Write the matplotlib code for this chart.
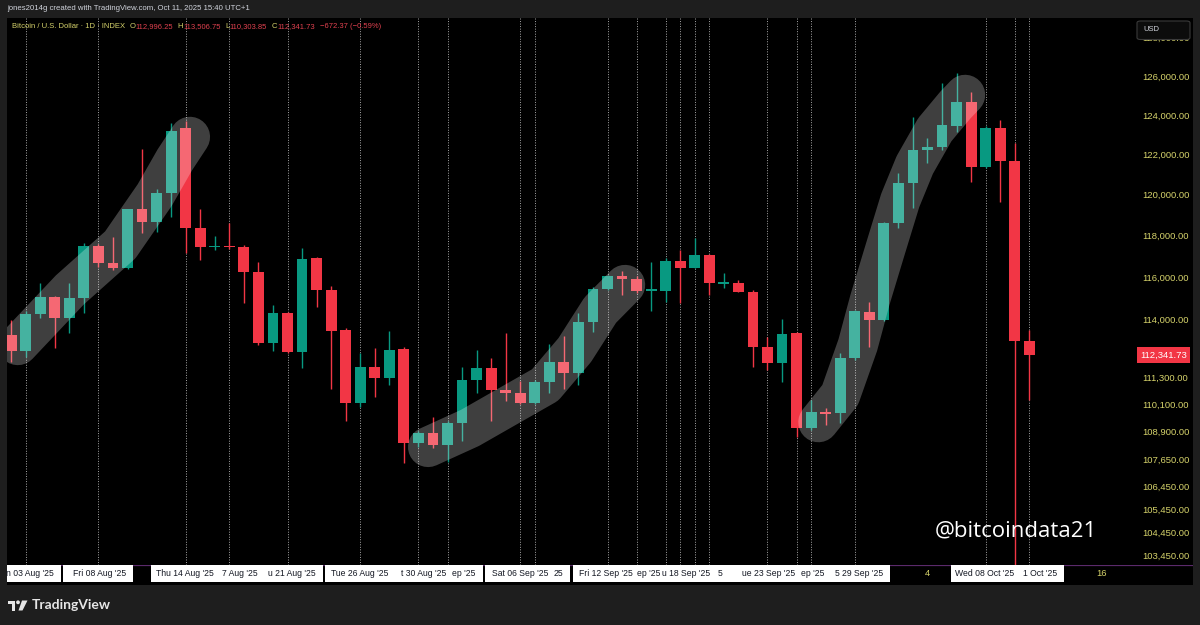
import numpy as np
import pandas as pd
import matplotlib
matplotlib.use('Agg')
import matplotlib.pyplot as plt
import matplotlib.dates as mdates
import matplotlib.transforms as mtransforms
from matplotlib.patches import Rectangle, FancyBboxPatch, Polygon, Circle
from matplotlib.ticker import FixedLocator, NullLocator, FuncFormatter, NullFormatter

plt.rcParams['font.family'] = ['Liberation Sans', 'DejaVu Sans']

# ---------------- data ----------------
start_date = '2025-08-02'
open_ = [113280, 112550, 114240, 115080, 114080, 115030, 117500, 116670, 116430, 119290,
         118680, 120080, 123330, 118360, 117440, 117500, 117470, 116260, 112890, 114290,
         112500, 116910, 115400, 113510, 110140, 111810, 111280, 112630, 108370, 108820,
         108270, 109270, 111200, 111760, 110750, 110620, 110170, 111120, 112020, 111510,
         113900, 115440, 116060, 115910, 115350, 115360, 116790, 116460, 117070, 115680,
         115740, 115310, 112710, 111990, 113360, 109020, 109740, 109720, 112190, 114370,
         113980, 118600, 120570, 122230, 122370, 123460, 124680, 121370, 123330, 121700,
         112996.25]
high = [113980, 114400, 115710, 115120, 115740, 117660, 117600, 117920, 119300, 122280,
        120270, 123610, 123700, 119300, 117980, 118600, 117550, 116750, 114690, 114360,
        117390, 116990, 115580, 113590, 112430, 112690, 113480, 112700, 108900, 109510,
        109350, 111780, 112580, 112190, 113390, 111170, 111200, 112860, 113230, 114290,
        115540, 116110, 116280, 116060, 116750, 116920, 117310, 117900, 117100, 116190,
        115870, 115400, 113200, 114010, 113420, 110290, 109920, 112430, 114450, 114840,
        118680, 121070, 123910, 122820, 125660, 126180, 125200, 123440, 123750, 122560,
        113506.75]
low = [112040, 112250, 114070, 112660, 113390, 114290, 116500, 116350, 116400, 118110,
       118190, 118930, 117150, 116830, 117310, 117350, 114770, 112810, 112520, 112460,
       111740, 114580, 110780, 109320, 109950, 110440, 110970, 107490, 108190, 108130,
       107500, 108460, 110600, 109360, 110260, 110110, 110110, 110620, 110780, 110970,
       113430, 115390, 115160, 115240, 114420, 114840, 114770, 116430, 115160, 115480,
       115300, 111810, 111660, 111100, 108640, 108940, 109170, 109270, 112120, 112740,
       113930, 118360, 119340, 121570, 122230, 123160, 120650, 121340, 119660, 100500,
       110303.85]
close = [112550, 114240, 115080, 114080, 115030, 117500, 116670, 116430, 119290, 118680,
         120080, 123210, 118360, 117440, 117500, 117440, 116260, 112890, 114290, 112500,
         116860, 115400, 113480, 110140, 111810, 111280, 112580, 108370, 108820, 108270,
         109270, 111200, 111760, 110750, 110600, 110170, 111120, 112020, 111510, 113900,
         115460, 116060, 115900, 115350, 115400, 116790, 116460, 117070, 115710, 115740,
         115310, 112710, 111990, 113330, 109020, 109740, 109670, 112190, 114410, 113980,
         118600, 120570, 122230, 122400, 123500, 124680, 121370, 123330, 121700, 112996.25,
         112341.73]

price_ticks = [128000, 126000, 124000, 122000, 120000, 118000, 116000, 114000,
               111300, 110100, 108900, 107650, 106450, 105450, 104450, 103450]

# vertical line markers (date, visible part of its time-axis label)
marker_dates = ['2025-08-03', '2025-08-08', '2025-08-14', '2025-08-17', '2025-08-21',
                '2025-08-26', '2025-08-30', '2025-09-01', '2025-09-06', '2025-09-07',
                '2025-09-12', '2025-09-14', '2025-09-16', '2025-09-17', '2025-09-18',
                '2025-09-19', '2025-09-23', '2025-09-25', '2025-09-26', '2025-09-29',
                '2025-10-08', '2025-10-10', '2025-10-11']
marker_labels = ["n 03 Aug '25", "Fri 08 Aug '25", "Thu 14 Aug '25", "7 Aug '25",
                 "u 21 Aug '25", "Tue 26 Aug '25", "t 30 Aug '25", "ep '25",
                 "Sat 06 Sep '25", "25", "Fri 12 Sep '25", "ep '25", "",
                 "u 18 Sep '25", "5", "", "ue 23 Sep '25", "ep '25", "5", "29 Sep '25",
                 "Wed 08 Oct '25", "", "1 Oct '25"]
axis_tick_dates = ['2025-10-04', '2025-10-16']
axis_tick_labels = ['4', '16']

# highlighter strokes (date, price)
hl1_dates = ['2025-08-02 11:00', '2025-08-06 01:00', '2025-08-09 12:00', '2025-08-11 21:00',
             '2025-08-13 06:00', '2025-08-14 07:00']
hl1_prices = [112810, 115400, 117550, 119990, 121730, 122890]
hl2_dates = ['2025-08-30 16:00', '2025-09-02 13:00', '2025-09-05 07:00', '2025-09-07 17:00',
             '2025-09-09 18:00', '2025-09-11 12:00', '2025-09-13 05:00']
hl2_prices = [108180, 109030, 110060, 110970, 112580, 114440, 115630]
hl3_dates = ['2025-09-26 12:00', '2025-09-28 00:00', '2025-09-29 05:00', '2025-09-30 01:00',
             '2025-10-01 02:00', '2025-10-02 03:00', '2025-10-03 03:00', '2025-10-04 12:00',
             '2025-10-05 22:00', '2025-10-06 14:00']
hl3_prices = [109290, 110520, 112810, 114920, 117310, 119720, 121480, 123250, 124510, 125030]

header_user = "jones2014g created with TradingView.com, Oct 11, 2025 15:40 UTC+1"
symbol_name = "Bitcoin / U.S. Dollar \u00b7 1D \u00b7 INDEX"
change_text = "\u2212672.37 (\u22120.59%)"
watermark = "@bitcoindata21"

# ---------------- figure ----------------
W, H = 1200, 625
fig = plt.figure(figsize=(12, 6.25), dpi=100, facecolor='#1e1e1e')

def fx(px):
    return px / W

def fy(py):
    return 1 - py / H

UP = '#089981'
DOWN = '#f23645'
YEL = '#d6d36b'
RED = '#e0414f'

# black chart panel
fig.patches.append(Rectangle((fx(7), fy(585)), fx(1193 - 7), (585 - 18) / H,
                             transform=fig.transFigure, facecolor='#000000',
                             edgecolor='none', zorder=-5))

ax = fig.add_axes([fx(7), fy(565), fx(1130 - 7), (565 - 18) / H])
ax.set_facecolor('#000000')
for s in ax.spines.values():
    s.set_visible(False)

dates = pd.date_range(start_date, periods=len(close), freq='D')
xd = mdates.date2num(dates)
o = np.array(open_, float)
h = np.array(high, float)
l = np.array(low, float)
c = np.array(close, float)
up = c >= o
cols = np.where(up, UP, DOWN)

ax.set_yscale('log')
base = mdates.date2num(pd.Timestamp('2025-08-03'))
day_px = 14.545
x_left = base - (25.7 - 7) / day_px
x_right = base + (1130 - 25.7) / day_px
ax.set_xlim(x_left, x_right)
ax.set_ylim(103055, 129046)

# vertical dotted markers
mx = mdates.date2num(pd.to_datetime(marker_dates))
for m in mx:
    ax.axvline(m, color='#a8a8a8', lw=0.7, ls=(0, (1, 1.6)), zorder=1)

# candles
ax.vlines(xd, l, h, colors=cols, lw=1.0, zorder=3)
bottoms = np.minimum(o, c)
heights = np.maximum(np.abs(c - o), bottoms * 0.0006)
ax.bar(xd, heights, bottom=bottoms, width=0.74, color=cols, edgecolor='none', zorder=4)

# highlighter strokes
for dd, pp in [(hl1_dates, hl1_prices), (hl2_dates, hl2_prices), (hl3_dates, hl3_prices)]:
    ax.plot(mdates.date2num(pd.to_datetime(dd)), pp, color='white', alpha=0.25,
            lw=29, solid_capstyle='round', solid_joinstyle='round', zorder=5)

# y axis on right
ax.yaxis.tick_right()
ax.yaxis.set_major_locator(FixedLocator(price_ticks))
ax.yaxis.set_major_formatter(FuncFormatter(lambda v, p: f'{v:,.2f}'))
ax.yaxis.set_minor_locator(NullLocator())
ax.yaxis.set_minor_formatter(NullFormatter())
ax.tick_params(axis='y', length=0, pad=9, labelsize=6.8, labelcolor=YEL)
ax.set_xticks([])

# watermark
fig.text(fx(1016), fy(531), watermark, ha='center', va='center', color='white',
         fontsize=16, family=['Open Sans', 'DejaVu Sans'])

# last price label
bt = mtransforms.blended_transform_factory(fig.transFigure, ax.transData)
fig.text(fx(1140), c[-1], f'{c[-1]:,.2f}', transform=bt, ha='left', va='center',
         color='white', fontsize=6.8, zorder=10,
         bbox=dict(boxstyle='square,pad=0.35', fc=DOWN, ec='none'))

# USD box
fig.patches.append(FancyBboxPatch((fx(1137), fy(39.5)), fx(53), 18.5 / H,
                                  boxstyle='round,pad=0,rounding_size=0.003',
                                  transform=fig.transFigure, facecolor='#0c0c0c',
                                  edgecolor='#3a3a3a', lw=0.8, zorder=5))
fig.text(fx(1143), fy(29.5), 'USD', color='#d1d4dc', fontsize=5.5, va='center', zorder=6)

# ---------------- time axis strip ----------------
axt = fig.add_axes([fx(7), fy(585), fx(1193 - 7), 20 / H])
axt.set_facecolor('#000000')
for s in axt.spines.values():
    s.set_visible(False)
axt.set_xlim(x_left, base + (1193 - 25.7) / day_px)
axt.set_ylim(0, 1)
axt.set_xticks([])
axt.set_yticks([])
axt.axhline(0.985, color='#5b2a6b', lw=1.6, zorder=1)
half_w = 35 / day_px
for m in mx:
    axt.add_patch(Rectangle((m - half_w, 0.15), 2 * half_w, 0.85, facecolor='white',
                            edgecolor='none', zorder=2))
right_px = [28] * len(mx)
right_px[10] = 25
right_px[11] = 24   # partly hidden labels squeezed by their neighbours
right_px[13] = 30
for m, lab, rp in zip(mx, marker_labels, right_px):
    if lab:
        axt.text(m + rp / day_px, 0.56, lab, ha='right', va='center', fontsize=6.2,
                 color='#131722', zorder=3)
for d, lab in zip(mdates.date2num(pd.to_datetime(axis_tick_dates)), axis_tick_labels):
    axt.text(d, 0.56, lab, ha='center', va='center', fontsize=6.8, color=YEL, zorder=3)

# ---------------- header ----------------
fig.text(fx(7), fy(8.5), header_user, color='#d1d4dc', fontsize=5.6, va='center')
HY = fy(27)
fig.canvas.draw()
renderer = fig.canvas.get_renderer()
parts = [(symbol_name, YEL, 0), ('O', YEL, 4.5), ('112,996.25', RED, 0.3), ('H', YEL, 4.5),
         ('113,506.75', RED, 0.3), ('L', YEL, 4.5), ('110,303.85', RED, 0.3), ('C', YEL, 4.5),
         ('112,341.73', RED, 0.3), (change_text, RED, 4.5)]
xcur = 11.5
for txt, col, gap in parts:
    xcur += gap
    t = fig.text(fx(xcur), HY, txt, color=col, fontsize=5.5, va='center')
    xcur = t.get_window_extent(renderer).x1

# ---------------- TradingView logo ----------------
axl = fig.add_axes([fx(7), fy(612), fx(22), 13 / H])
axl.set_xlim(0, 22)
axl.set_ylim(13, 0)
axl.axis('off')
axl.add_patch(Polygon([(0.5, 1.5), (8, 1.5), (8, 11.5), (4.5, 11.5), (4.5, 5), (0.5, 5)],
                      closed=True, fc='#e6e6e6', ec='none'))
axl.add_patch(Circle((11, 3.3), 1.9, fc='#e6e6e6', ec='none'))
axl.add_patch(Polygon([(15, 1.5), (20.5, 1.5), (15.5, 11.5), (11.5, 11.5)],
                      closed=True, fc='#e6e6e6', ec='none'))
fig.text(fx(32), fy(605), 'TradingView', color='#e6e6e6', fontsize=10,
         fontweight='bold', va='center', family=['Lato', 'DejaVu Sans'])

fig.savefig('out.png', dpi=100, facecolor=fig.get_facecolor())
